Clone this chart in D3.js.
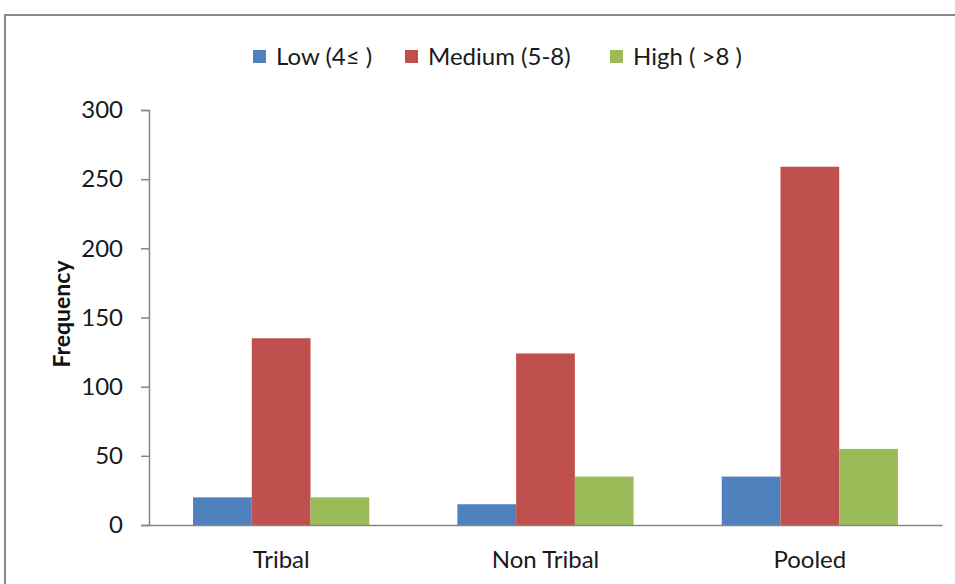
<!DOCTYPE html>
<html>
<head>
<meta charset="utf-8">
<script src="https://cdn.jsdelivr.net/npm/d3@7"></script>
<style>
  html, body { margin: 0; padding: 0; background: #fff; }
  svg { display: block; font-family: Lato, "Open Sans", sans-serif; }
</style>
</head>
<body>
<svg id="chart" width="955" height="584"></svg>
<script>
// Frequency of score levels by group
const categories = ["Tribal", "Non Tribal", "Pooled"];
const seriesNames = ["Low (4\u2264 )", "Medium (5-8)", "High ( >8 )"];
const lowValues = [20, 15, 35];
const mediumValues = [135, 124, 259];
const highValues = [20, 35, 55];
const yTicks = [0, 50, 100, 150, 200, 250, 300];
const colors = ["#4F81BD", "#C0504D", "#9BBB59"];

const series = [lowValues, mediumValues, highValues];

const svg = d3.select("#chart");
const W = 955, H = 584;
const labelFont = "Lato, 'Open Sans', sans-serif";

// outer chart frame (runs off the right and bottom edges)
svg.append("rect")
  .attr("x", 5).attr("y", 15)
  .attr("width", W + 10).attr("height", H + 10)
  .attr("fill", "#fff")
  .attr("stroke", "#8a8a8a")
  .attr("stroke-width", 2);

const plot = { left: 149, right: 942, top: 110, bottom: 525 };

const x0 = d3.scaleBand()
  .domain(categories)
  .range([plot.left, plot.right])
  .paddingInner(0)
  .paddingOuter(0);

// gap between groups = 1.5 bar widths
const x1 = d3.scaleBand()
  .domain(d3.range(series.length))
  .range([0, x0.bandwidth()])
  .paddingInner(0)
  .paddingOuter(0.75);

const y = d3.scaleLinear()
  .domain([0, 300])
  .range([plot.bottom, plot.top]);

// bars
categories.forEach((cat, ci) => {
  series.forEach((vals, si) => {
    svg.append("rect")
      .attr("x", x0(cat) + x1(si))
      .attr("y", y(vals[ci]))
      .attr("width", x1.bandwidth())
      .attr("height", y(0) - y(vals[ci]))
      .attr("fill", colors[si]);
  });
});

// y axis
const yAxis = d3.axisLeft(y)
  .tickValues(yTicks)
  .tickSize(8)
  .tickPadding(18)
  .tickFormat(d3.format("d"));

const gy = svg.append("g")
  .attr("transform", `translate(${plot.left},0)`)
  .call(yAxis);
gy.select(".domain").attr("stroke", "#868686").attr("stroke-width", 1.5);
gy.selectAll(".tick line").attr("stroke", "#868686").attr("stroke-width", 1.5);
gy.selectAll(".tick text")
  .attr("fill", "#1a1a1a")
  .style("font-size", "24px")
  .style("font-family", labelFont);

// x axis
const xAxis = d3.axisBottom(x0).tickSize(0).tickPadding(26);
const gx = svg.append("g")
  .attr("transform", `translate(0,${plot.bottom})`)
  .call(xAxis);
gx.select(".domain").attr("stroke", "#868686").attr("stroke-width", 1.5);
gx.selectAll(".tick text")
  .attr("fill", "#1a1a1a")
  .style("font-size", "24px")
  .style("font-family", labelFont);

// y axis title
svg.append("text")
  .attr("transform", "translate(70,314) rotate(-90)")
  .attr("text-anchor", "middle")
  .attr("fill", "#111")
  .style("font-size", "23px")
  .style("font-weight", "bold")
  .text("Frequency");

// legend
const legendX = [253, 405, 610];
const legend = svg.append("g");
seriesNames.forEach((name, i) => {
  legend.append("rect")
    .attr("x", legendX[i]).attr("y", 50)
    .attr("width", 13).attr("height", 13)
    .attr("fill", colors[i]);
  legend.append("text")
    .attr("x", legendX[i] + 23)
    .attr("y", 65)
    .attr("fill", "#1a1a1a")
    .style("font-size", "24px")
    .text(name);
});
</script>
</body>
</html>
